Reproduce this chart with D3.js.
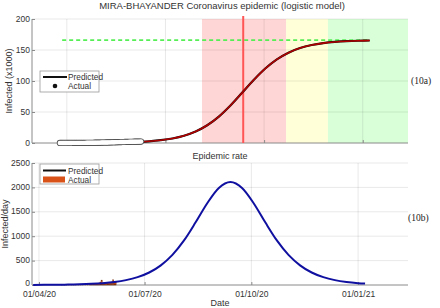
<!DOCTYPE html>
<html><head><meta charset="utf-8">
<script src="https://cdn.jsdelivr.net/npm/d3@7"></script>
<style>body{margin:0;background:#fff}svg{display:block;font-family:"Liberation Sans",Arial,sans-serif}</style>
</head><body>
<svg id="c" width="440" height="308"></svg>
<script>
// ---- data (day offsets relative to 01/04/2020) ----
const topTitle = "MIRA-BHAYANDER Coronavirus epidemic (logistic model)";
const topYTicks = [0, 50, 100, 150, 200];
const topGridDays = [24, 109, 194, 279];
const predDays = [88, 95, 105, 115, 125, 135, 145, 155, 165, 175, 185, 195, 205, 215, 225, 235, 245, 255, 265, 275, 285];
const predVals = [1.9, 2.7, 4.5, 7.3, 11.7, 18.5, 28.6, 42.6, 60.5, 80.9, 101.6, 120.1, 134.9, 145.7, 153.2, 158.0, 161.1, 163.0, 164.2, 164.9, 165.3];
const actualStartDay = 18;
const actualVals = [0.05,0.05,0.06,0.06,0.07,0.08,0.08,0.09,0.1,0.11,
  0.12,0.13,0.14,0.15,0.16,0.17,0.18,0.2,0.21,0.23,
  0.24,0.26,0.28,0.3,0.32,0.34,0.36,0.38,0.41,0.44,
  0.47,0.5,0.53,0.56,0.6,0.64,0.73,0.76,0.8,0.84,
  0.88,0.92,0.97,1.02,1.07,1.12,1.22,1.28,1.34,1.38,
  1.42,1.46,1.5,1.55,1.6,1.65,1.7,1.75,1.8,1.85,
  1.9,1.94,1.98,2.02,2.06,2.1,2.14,2.18,2.22,2.26,2.3];
const capacity = 166;
const capStart = 20, capEnd = 285;
const phaseRed = [140.5, 213], phaseYellow = [213, 249], phaseGreen = [249, 318];
const inflectionDay = 176;

const rateTitle = "Epidemic rate";
const rateYTicks = [0, 500, 1000, 1500, 2000, 2500];
const dateTicks = ["2020-04-01", "2020-07-01", "2020-10-01", "2021-01-01"];
const dateTickLabels = ["01/04/20", "01/07/20", "01/10/20", "01/01/21"];
const rateDays = [-5, 5, 15, 25, 35, 45, 55, 65, 75, 85, 95, 105, 115, 125, 135, 145, 155, 165, 175, 185, 195, 205, 215, 225, 235, 245, 255, 265, 275, 281];
const rateVals = [2, 3.3, 5.4, 8.8, 14.4, 23.5, 38.2, 61.9, 100, 161, 256, 403, 617, 913, 1284, 1676, 1989, 2110, 1989, 1676, 1284, 913, 617, 403, 256, 161, 100, 61.9, 38.2, 28.5];
const barDays = [20,22,24,26,28,30,32,34,36,38,40,42,44,45,46,47,48,49,50,51,52,53,54,55,56,57,58,59,60,61,62,63,64,65,66];
const barVals = [4,5,6,8,7,9,10,12,14,13,16,18,22,25,20,28,30,26,35,32,38,60,100,40,45,50,42,48,55,52,58,60,105,70,65];

// ---- layout ----
const svg = d3.select("#c");
const L = 32, R = 408;
const base = new Date(2020, 3, 1);
const toDate = d => new Date(base.getTime() + d * 86400000);
const txtCol = "#333", axCol = "#8a8a8a", gridCol = "rgba(0,0,0,0.09)";

// ================= TOP =================
const xT = d3.scaleLinear().domain([-6, 318]).range([L, R]);
const yT = d3.scaleLinear().domain([0, 200]).range([143, 19]);
const gT = svg.append("g");
[[phaseRed, "#ffd6d6"], [phaseYellow, "#ffffd8"], [phaseGreen, "#d8ffd8"]].forEach(([p, c]) => {
  gT.append("rect").attr("x", xT(p[0])).attr("y", yT(200)).attr("width", xT(p[1]) - xT(p[0])).attr("height", yT(0) - yT(200)).attr("fill", c);
});
topYTicks.slice(1).forEach(v => gT.append("line").attr("x1", L).attr("x2", R).attr("y1", yT(v)).attr("y2", yT(v)).attr("stroke", gridCol));
topGridDays.forEach(v => gT.append("line").attr("x1", xT(v)).attr("x2", xT(v)).attr("y1", yT(0)).attr("y2", yT(200)).attr("stroke", gridCol));
const axL = gT.append("g").attr("transform", `translate(${L},0)`).call(d3.axisLeft(yT).tickValues(topYTicks).tickSize(-3).tickPadding(2).tickFormat(d3.format("d")));
const axB = gT.append("g").attr("transform", `translate(0,${yT(0)})`).call(d3.axisBottom(xT).tickValues(topGridDays).tickSize(-3).tickFormat(""));
[axL, axB].forEach(a => { a.select(".domain").attr("stroke", axCol); a.selectAll(".tick line").attr("stroke", axCol); a.selectAll("text").attr("fill", txtCol).attr("font-size", 8.5).attr("font-family", "Liberation Sans, Arial"); });
axB.select(".domain").attr("d", `M${L},0H${R}`);
axL.select(".domain").attr("d", `M0,${yT(0)}V${yT(200)}`);
gT.append("line").attr("x1", xT(capStart)).attr("x2", xT(capEnd)).attr("y1", yT(capacity)).attr("y2", yT(capacity))
  .attr("stroke", "#55ee55").attr("stroke-width", 1.6).attr("stroke-dasharray", "4,3");
gT.append("line").attr("x1", xT(inflectionDay)).attr("x2", xT(inflectionDay)).attr("y1", 16).attr("y2", yT(0))
  .attr("stroke", "#ff5555").attr("stroke-width", 2);
const lineT = d3.line().x((d, i) => xT(predDays[i])).y(d => yT(d)).curve(d3.curveMonotoneX);
gT.append("path").datum(predVals).attr("d", lineT).attr("fill", "none").attr("stroke", "#111").attr("stroke-width", 2.2);
gT.append("path").datum(predVals).attr("d", lineT).attr("fill", "none").attr("stroke", "#b00000").attr("stroke-width", 1.6);
gT.selectAll("circle.actO").data(actualVals).join("circle").attr("class", "actO")
  .attr("cx", (d, i) => xT(actualStartDay + i)).attr("cy", d => yT(d)).attr("r", 3.1).attr("fill", "#555");
gT.selectAll("circle.actI").data(actualVals).join("circle").attr("class", "actI")
  .attr("cx", (d, i) => xT(actualStartDay + i)).attr("cy", d => yT(d)).attr("r", 2.2).attr("fill", "#fff");
svg.append("text").attr("x", 222).attr("y", 9).attr("text-anchor", "middle").attr("font-size", 9.5).attr("fill", txtCol).text(topTitle);
svg.append("text").attr("transform", `translate(12,81) rotate(-90)`).attr("text-anchor", "middle").attr("font-size", 9).attr("fill", txtCol).text("Infected (x1000)");
const lg1 = svg.append("g");
lg1.append("rect").attr("x", 40).attr("y", 71).attr("width", 59).attr("height", 21).attr("fill", "#fff").attr("stroke", "#999").attr("stroke-width", 0.8);
lg1.append("line").attr("x1", 43).attr("x2", 67).attr("y1", 77).attr("y2", 77).attr("stroke", "#111").attr("stroke-width", 2);
lg1.append("circle").attr("cx", 55).attr("cy", 86).attr("r", 2.3).attr("fill", "#111");
lg1.append("text").attr("x", 68).attr("y", 80).attr("font-size", 8.3).attr("fill", txtCol).text("Predicted");
lg1.append("text").attr("x", 68).attr("y", 89).attr("font-size", 8.3).attr("fill", txtCol).text("Actual");
svg.append("text").attr("x", 411).attr("y", 84).attr("font-family", "Liberation Serif, Times New Roman, serif").attr("font-size", 9.5).attr("fill", "#222").text("(10a)");

// ================= BOTTOM =================
const xB = d3.scaleTime().domain([toDate(-6), toDate(318)]).range([L, R]);
const yB = d3.scaleLinear().domain([0, 2500]).range([285, 163]);
const gB = svg.append("g");
const tickDates = dateTicks.map(s => { const [y, m, d] = s.split("-").map(Number); return new Date(y, m - 1, d); });
rateYTicks.slice(1).forEach(v => gB.append("line").attr("x1", L).attr("x2", R).attr("y1", yB(v)).attr("y2", yB(v)).attr("stroke", gridCol));
tickDates.forEach(v => gB.append("line").attr("x1", xB(v)).attr("x2", xB(v)).attr("y1", yB(0)).attr("y2", yB(2500)).attr("stroke", gridCol));
const bL = gB.append("g").attr("transform", `translate(${L},0)`).call(d3.axisLeft(yB).tickValues(rateYTicks).tickSize(-3).tickPadding(2).tickFormat(d3.format("d")));
const bB = gB.append("g").attr("transform", `translate(0,${yB(0)})`).call(d3.axisBottom(xB).tickValues(tickDates).tickSize(-3).tickPadding(6).tickFormat((d, i) => dateTickLabels[i]));
[bL, bB].forEach(a => { a.select(".domain").attr("stroke", axCol); a.selectAll(".tick line").attr("stroke", axCol); a.selectAll("text").attr("fill", txtCol).attr("font-size", 8.5).attr("font-family", "Liberation Sans, Arial"); });
bL.selectAll(".tick text").attr("dy", d => d === 0 ? "0.05em" : "0.25em");
bB.select(".domain").attr("d", `M${L},0H${R}`);
bL.select(".domain").attr("d", `M0,${yB(0)}V${yB(2500)}`);
const bw = xB(toDate(1)) - xB(toDate(0));
gB.selectAll("rect.bar").data(barVals).join("rect").attr("class", "bar")
  .attr("x", (d, i) => xB(toDate(barDays[i])) - bw / 2).attr("width", bw).attr("y", d => yB(d)).attr("height", d => yB(0) - yB(d))
  .attr("fill", "#d95319").attr("stroke", "#6a2a10").attr("stroke-width", 0.4);
const lineB = d3.line().x((d, i) => xB(toDate(rateDays[i]))).y(d => yB(d)).curve(d3.curveMonotoneX);
gB.append("path").datum(rateVals).attr("d", lineB).attr("fill", "none").attr("stroke", "#1010a0").attr("stroke-width", 2);
svg.append("text").attr("x", 220).attr("y", 159).attr("text-anchor", "middle").attr("font-size", 9).attr("fill", txtCol).text(rateTitle);
svg.append("text").attr("transform", `translate(8,224) rotate(-90)`).attr("text-anchor", "middle").attr("font-size", 9).attr("fill", txtCol).text("Infected/day");
svg.append("text").attr("x", 220).attr("y", 306).attr("text-anchor", "middle").attr("font-size", 9).attr("fill", txtCol).text("Date");
const lg2 = svg.append("g");
lg2.append("rect").attr("x", 40).attr("y", 164).attr("width", 59).attr("height", 20).attr("fill", "#fff").attr("stroke", "#999").attr("stroke-width", 0.8);
lg2.append("line").attr("x1", 43).attr("x2", 66).attr("y1", 170.5).attr("y2", 170.5).attr("stroke", "#111").attr("stroke-width", 2);
lg2.append("rect").attr("x", 43).attr("y", 176.5).attr("width", 22).attr("height", 6).attr("fill", "#d95319");
lg2.append("text").attr("x", 68).attr("y", 173.5).attr("font-size", 8.3).attr("fill", txtCol).text("Predicted");
lg2.append("text").attr("x", 68).attr("y", 182.5).attr("font-size", 8.3).attr("fill", txtCol).text("Actual");
svg.append("text").attr("x", 408).attr("y", 221).attr("font-family", "Liberation Serif, Times New Roman, serif").attr("font-size", 9.5).attr("fill", "#222").text("(10b)");
</script>
</body></html>
